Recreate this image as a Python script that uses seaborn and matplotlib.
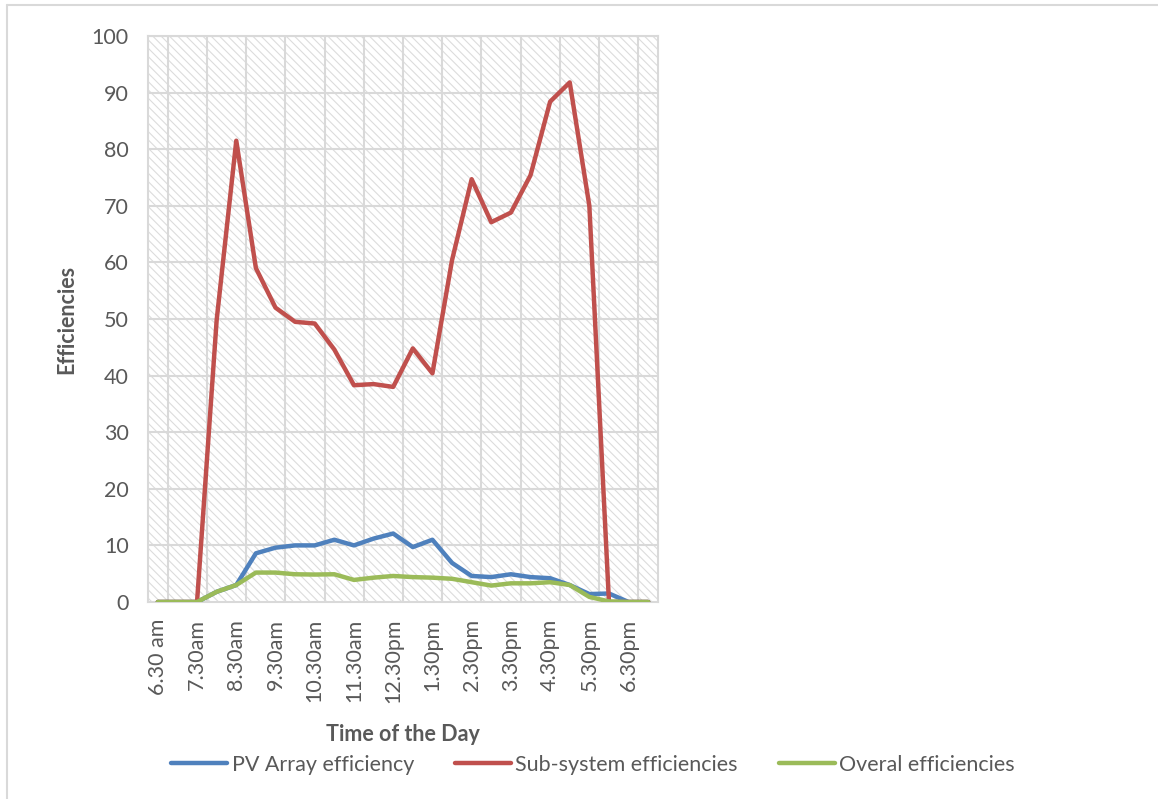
import numpy as np
import pandas as pd
import matplotlib
matplotlib.use("Agg")
import matplotlib.pyplot as plt
from matplotlib.patches import Rectangle
from matplotlib.lines import Line2D
import seaborn as sns

# Half-hourly readings from 6.30 am to 7.00 pm
times = ["6.30 am", "7.00am", "7.30am", "8.00am", "8.30am", "9.00am", "9.30am",
         "10.00am", "10.30am", "11.00am", "11.30am", "12.00pm", "12.30pm",
         "1.00pm", "1.30pm", "2.00pm", "2.30pm", "3.00pm", "3.30pm", "4.00pm",
         "4.30pm", "5.00pm", "5.30pm", "6.00pm", "6.30pm", "7.00pm"]

pv_array = [0, 0, 0, 1.8, 3.0, 8.6, 9.6, 10.0, 10.0, 11.0, 10.0, 11.2, 12.1,
            9.7, 11.0, 6.9, 4.6, 4.4, 4.9, 4.4, 4.2, 3.0, 1.4, 1.5, 0, 0]
sub_system = [0, 0, 0, 49.8, 81.5, 59.0, 52.0, 49.5, 49.2, 44.6, 38.3, 38.5,
              38.0, 44.8, 40.4, 60.4, 74.7, 67.1, 68.8, 75.4, 88.4, 91.8,
              70.0, 0, 0, 0]
overall = [0, 0, 0, 1.8, 3.0, 5.2, 5.2, 4.9, 4.85, 4.9, 3.9, 4.3, 4.6, 4.4,
           4.3, 4.1, 3.5, 2.9, 3.3, 3.3, 3.5, 3.0, 0.9, 0.1, 0, 0]

series_names = ["PV Array efficiency", "Sub-system efficiencies", "Overal efficiencies"]
series_colors = ["#4f81bd", "#c0504d", "#9bbb59"]

df = pd.DataFrame({
    "idx": np.tile(np.arange(len(times)), 3),
    "value": pv_array + sub_system + overall,
    "series": np.repeat(series_names, len(times)),
})

sns.set_theme(style="white")
plt.rcParams["font.family"] = ["Lato", "DejaVu Sans"]
plt.rcParams["hatch.linewidth"] = 0.8
plt.rcParams["hatch.color"] = "#dcdcdc"

text_color = "#595959"
grid_color = "#d9d9d9"

fig = plt.figure(figsize=(11.58, 7.99), dpi=100)
ax = fig.add_axes([148 / 1158, 1 - 602 / 799, 510 / 1158, 566 / 799])

# Patterned plot-area fill
ax.add_patch(Rectangle((0, 0), 1, 1, transform=ax.transAxes, facecolor="white",
                       edgecolor="#dcdcdc", hatch="\\\\\\\\", linewidth=0, zorder=0))

sns.lineplot(data=df, x="idx", y="value", hue="series", hue_order=series_names,
             palette=series_colors, linewidth=3.2, ax=ax, legend=False,
             zorder=3, solid_capstyle="round", solid_joinstyle="round")

ax.set_xlim(-0.5, len(times) - 0.5)
ax.set_ylim(0, 100)
ax.set_yticks(np.arange(0, 101, 10))
ax.set_xticks(np.arange(0, len(times), 2))
ax.set_xticklabels(times[::2], rotation=90)

ax.grid(False)
for y in range(10, 101, 10):
    ax.axhline(y, color=grid_color, linewidth=1.5, zorder=1)
for x in np.arange(0.5, len(times) - 1, 2):
    ax.axvline(x, color=grid_color, linewidth=1.5, zorder=1)

for sp in ax.spines.values():
    sp.set_color(grid_color)
    sp.set_linewidth(1.5)

ax.tick_params(axis="y", length=0, pad=14, labelsize=15.5, labelcolor=text_color)
ax.tick_params(axis="x", which="both", length=0, pad=12, labelsize=15.5,
               labelcolor=text_color)

ax.set_xlabel("Time of the Day", fontsize=15.5, fontweight="bold", color=text_color,
              labelpad=15)
ax.set_ylabel("Efficiencies", fontsize=15.5, fontweight="bold", color=text_color,
              labelpad=10)

handles = [Line2D([], [], color=c, linewidth=3.2, solid_capstyle="round")
           for c in series_colors]
fig.legend(handles, series_names, loc="center", bbox_to_anchor=(0.512, 0.043),
           ncol=3, frameon=False, fontsize=15.5, handlelength=2.6,
           handletextpad=0.2, columnspacing=1.9, labelcolor=text_color)

# Chart-area border
fig.add_artist(Line2D([7 / 1158, 1], [1 - 5 / 799, 1 - 5 / 799],
                      transform=fig.transFigure, color=grid_color, linewidth=1.5))
fig.add_artist(Line2D([7 / 1158, 7 / 1158], [0, 1 - 5 / 799],
                      transform=fig.transFigure, color=grid_color, linewidth=1.5))

fig.savefig("out.png", dpi=100, facecolor="white")
